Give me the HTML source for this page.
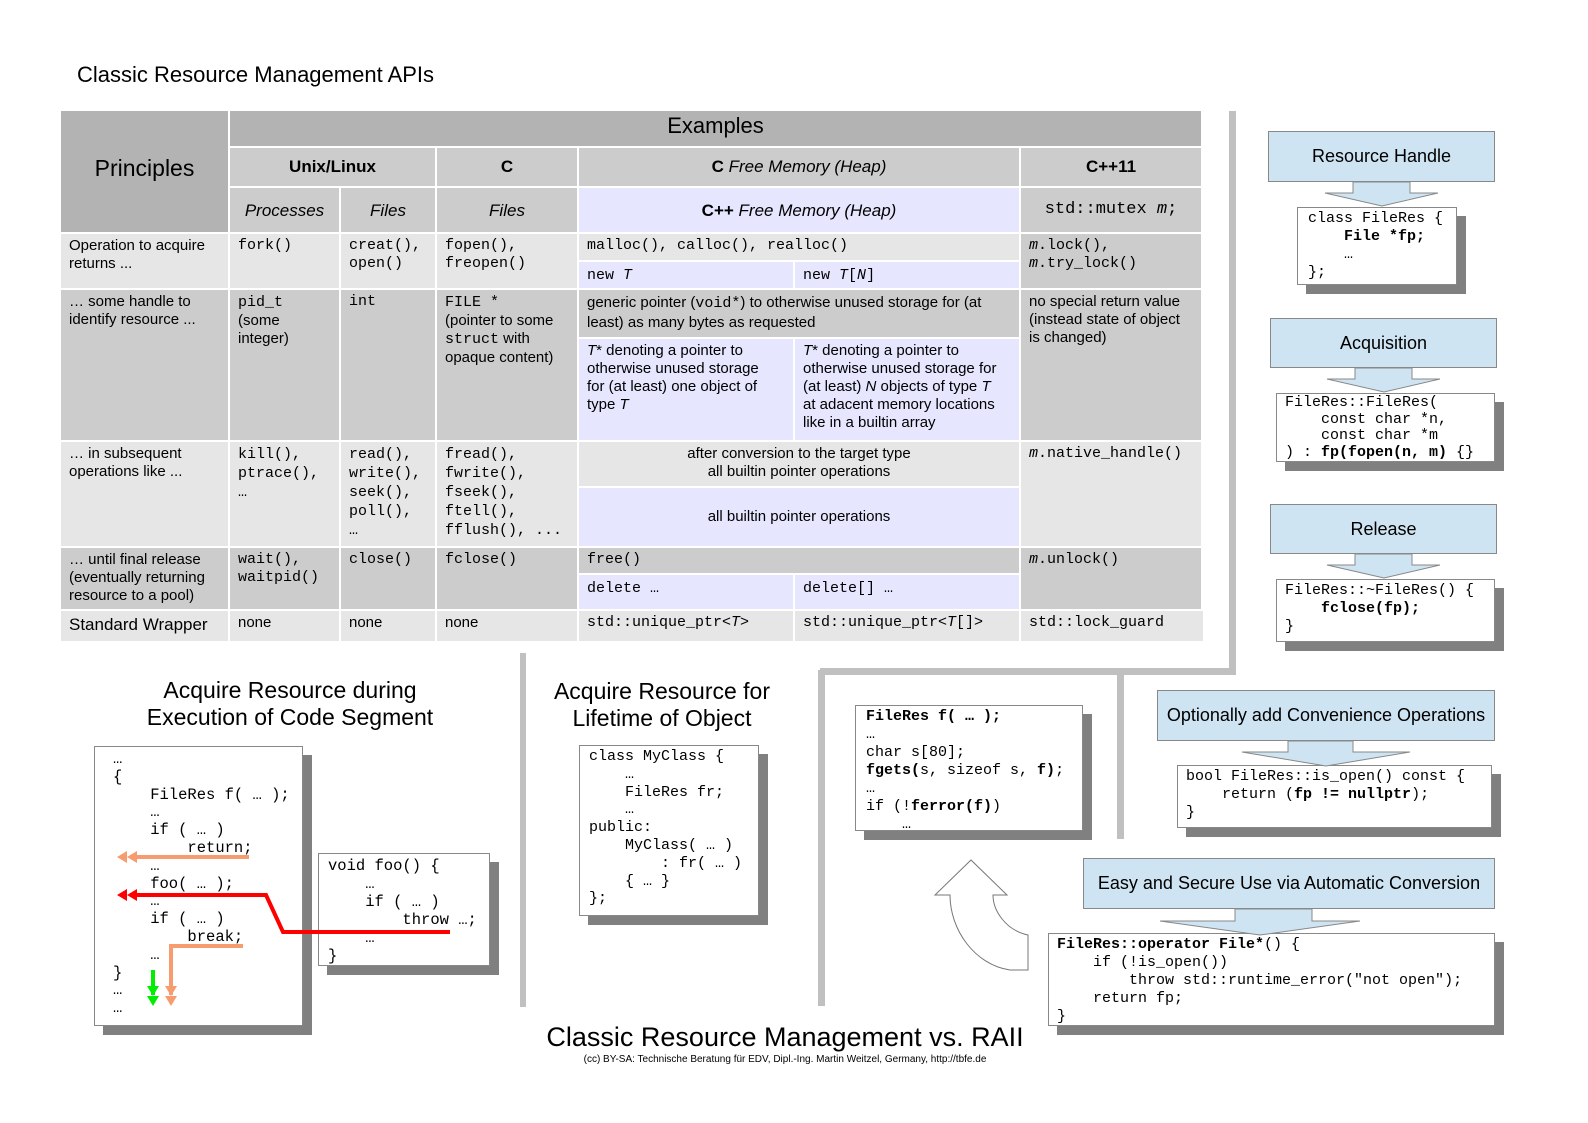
<!DOCTYPE html>
<html><head><meta charset="utf-8"><style>
body{margin:0;width:1588px;height:1123px;background:#fff;position:relative;overflow:hidden;font-family:"Liberation Sans",sans-serif;color:#000}
.c{position:absolute;box-sizing:border-box;border-right:2px solid #fff;border-bottom:2px solid #fff;padding:3px 8px;font-size:15px;line-height:18px}
.m{font-family:"Liberation Mono",monospace}
.g{background:#ccc}.l{background:#e6e6e6}.v{background:#e6e6ff}.d{background:#b3b3b3}
.ctr{text-align:center}
.t{position:absolute;white-space:nowrap}
.box{position:absolute;box-sizing:border-box;background:#fff;border:1px solid #888;box-shadow:9px 9px 0 #808080;font-family:"Liberation Mono",monospace;font-size:15px;line-height:18px;padding:4px 10px;white-space:pre}
.blue{position:absolute;box-sizing:border-box;background:#cfe4f2;border:1px solid #888;font-size:18px;display:flex;align-items:center;justify-content:center;white-space:nowrap}
.bar{position:absolute;background:#c0c0c0}
b{font-weight:bold}
</style></head><body>
<div class="t" style="left:77px;top:62px;font-size:22px">Classic Resource Management APIs</div>

<div class="c d" style="left:61px;top:111px;width:169px;height:123px;font-size:23px;padding-top:48px;text-align:center">Principles</div>
<div class="c d ctr" style="left:230px;top:111px;width:973px;height:37px;font-size:22px;padding-top:6px">Examples</div>
<div class="c g ctr" style="left:230px;top:148px;width:207px;height:40px;font-size:17px;padding-top:10px"><b>Unix/Linux</b></div>
<div class="c g ctr" style="left:437px;top:148px;width:142px;height:40px;font-size:17px;padding-top:10px"><b>C</b></div>
<div class="c g ctr" style="left:579px;top:148px;width:442px;height:40px;font-size:17px;padding-top:10px"><b>C</b> <i>Free Memory (Heap)</i></div>
<div class="c g ctr" style="left:1021px;top:148px;width:182px;height:40px;font-size:17px;padding-top:10px"><b>C++11</b></div>
<div class="c g ctr" style="left:230px;top:188px;width:111px;height:46px;font-size:17px;padding-top:14px"><i>Processes</i></div>
<div class="c g ctr" style="left:341px;top:188px;width:96px;height:46px;font-size:17px;padding-top:14px"><i>Files</i></div>
<div class="c g ctr" style="left:437px;top:188px;width:142px;height:46px;font-size:17px;padding-top:14px"><i>Files</i></div>
<div class="c v ctr" style="left:579px;top:188px;width:442px;height:46px;font-size:17px;padding-top:14px"><b>C++</b> <i>Free Memory (Heap)</i></div>
<div class="c g ctr m" style="left:1021px;top:188px;width:182px;height:46px;font-size:17px;padding-top:13px">std::mutex <i>m</i>;</div>

<div class="c l" style="left:61px;top:234px;width:169px;height:56px">Operation to acquire returns ...</div>
<div class="c l m" style="left:230px;top:234px;width:111px;height:56px">fork()</div>
<div class="c l m" style="left:341px;top:234px;width:96px;height:56px">creat(),<br>open()</div>
<div class="c l m" style="left:437px;top:234px;width:142px;height:56px">fopen(),<br>freopen()</div>
<div class="c l m" style="left:579px;top:234px;width:442px;height:28px">malloc(), calloc(), realloc()</div>
<div class="c v m" style="left:579px;top:262px;width:216px;height:28px;padding-top:5px">new <i>T</i></div>
<div class="c v m" style="left:795px;top:262px;width:226px;height:28px;padding-top:5px">new <i>T</i>[<i>N</i>]</div>
<div class="c g m" style="left:1021px;top:234px;width:182px;height:56px"><i>m</i>.lock(),<br><i>m</i>.try_lock()</div>

<div class="c g" style="left:61px;top:290px;width:169px;height:152px">… some handle to identify resource ...</div>
<div class="c g" style="left:230px;top:290px;width:111px;height:152px"><span class="m">pid_t</span><br>(some<br>integer)</div>
<div class="c g m" style="left:341px;top:290px;width:96px;height:152px">int</div>
<div class="c g" style="left:437px;top:290px;width:142px;height:152px"><span class="m">FILE *</span><br>(pointer to some <span class="m">struct</span> with opaque content)</div>
<div class="c g" style="left:579px;top:290px;width:442px;height:49px;line-height:19px">generic pointer (<span class="m">void*</span>) to otherwise unused storage for (at least) as many bytes as requested</div>
<div class="c v" style="left:579px;top:339px;width:216px;height:103px;padding-right:20px"><i>T</i>* denoting a pointer to otherwise unused storage for (at least) one object of type <i>T</i></div>
<div class="c v" style="left:795px;top:339px;width:226px;height:103px;padding-right:12px"><i>T</i>* denoting a pointer to otherwise unused storage for (at least) <i>N</i> objects of type <i>T</i> at adacent memory locations like in a builtin array</div>
<div class="c g" style="left:1021px;top:290px;width:182px;height:152px">no special return value (instead state of object is changed)</div>

<div class="c l" style="left:61px;top:442px;width:169px;height:106px">… in subsequent operations like ...</div>
<div class="c l m" style="left:230px;top:442px;width:111px;height:106px;line-height:19px">kill(),<br>ptrace(),<br>…</div>
<div class="c l m" style="left:341px;top:442px;width:96px;height:106px;line-height:19px">read(),<br>write(),<br>seek(),<br>poll(),<br>…</div>
<div class="c l m" style="left:437px;top:442px;width:142px;height:106px;line-height:19px">fread(),<br>fwrite(),<br>fseek(),<br>ftell(),<br>fflush(), ...</div>
<div class="c l ctr" style="left:579px;top:442px;width:442px;height:46px">after conversion to the target type<br>all builtin pointer operations</div>
<div class="c v ctr" style="left:579px;top:488px;width:442px;height:60px;padding-top:20px">all builtin pointer operations</div>
<div class="c l m" style="left:1021px;top:442px;width:182px;height:106px"><i>m</i>.native_handle()</div>

<div class="c g" style="left:61px;top:548px;width:169px;height:63px">… until final release (eventually returning resource to a pool)</div>
<div class="c g m" style="left:230px;top:548px;width:111px;height:63px">wait(),<br>waitpid()</div>
<div class="c g m" style="left:341px;top:548px;width:96px;height:63px">close()</div>
<div class="c g m" style="left:437px;top:548px;width:142px;height:63px">fclose()</div>
<div class="c g m" style="left:579px;top:548px;width:442px;height:27px">free()</div>
<div class="c v m" style="left:579px;top:575px;width:216px;height:36px;padding-top:5px">delete …</div>
<div class="c v m" style="left:795px;top:575px;width:226px;height:36px;padding-top:5px">delete[] …</div>
<div class="c g m" style="left:1021px;top:548px;width:182px;height:63px"><i>m</i>.unlock()</div>

<div class="c l" style="left:61px;top:611px;width:169px;height:30px;font-size:17px;padding-top:5px;border-bottom:0">Standard Wrapper</div>
<div class="c l" style="left:230px;top:611px;width:111px;height:30px;border-bottom:0">none</div>
<div class="c l" style="left:341px;top:611px;width:96px;height:30px;border-bottom:0">none</div>
<div class="c l" style="left:437px;top:611px;width:142px;height:30px;border-bottom:0">none</div>
<div class="c l m" style="left:579px;top:611px;width:216px;height:30px;border-bottom:0">std::unique_ptr&lt;<i>T</i>&gt;</div>
<div class="c l m" style="left:795px;top:611px;width:226px;height:30px;border-bottom:0">std::unique_ptr&lt;<i>T</i>[]&gt;</div>
<div class="c l m" style="left:1021px;top:611px;width:182px;height:30px;border-bottom:0;border-right:0">std::lock_guard</div>

<!-- bars -->
<div class="bar" style="left:1229px;top:111px;width:7px;height:563px"></div>
<div class="bar" style="left:820px;top:668px;width:416px;height:7px"></div>
<div class="bar" style="left:818px;top:670px;width:7px;height:336px"></div>
<div class="bar" style="left:1117px;top:674px;width:7px;height:165px"></div>
<div class="bar" style="left:520px;top:653px;width:6px;height:354px"></div>

<div class="blue" style="left:1268px;top:131px;width:227px;height:51px">Resource Handle</div>
<div class="box" style="left:1297px;top:207px;width:160px;height:78px;padding-top:2px">class FileRes {
    <b>File *fp;</b>
    …
};</div>
<div class="blue" style="left:1270px;top:318px;width:227px;height:50px">Acquisition</div>
<div class="box" style="left:1276px;top:393px;width:219px;height:69px;padding:1px 8px;line-height:16.5px">FileRes::FileRes(
    const char *n,
    const char *m
) : <b>fp(fopen(n, m)</b> {}</div>
<div class="blue" style="left:1270px;top:504px;width:227px;height:50px">Release</div>
<div class="box" style="left:1276px;top:579px;width:219px;height:63px;padding:2px 8px">FileRes::~FileRes() {
    <b>fclose(fp);</b>
}</div>
<div class="blue" style="left:1157px;top:690px;width:338px;height:51px">Optionally add Convenience Operations</div>
<div class="box" style="left:1177px;top:765px;width:315px;height:63px;padding:2px 8px">bool FileRes::is_open() const {
    return (<b>fp != nullptr</b>);
}</div>
<div class="blue" style="left:1083px;top:858px;width:412px;height:51px">Easy and Secure Use via Automatic Conversion</div>
<div class="box" style="left:1048px;top:933px;width:447px;height:93px;padding:2px 8px"><b>FileRes::operator File*</b>() {
    if (!is_open())
        throw std::runtime_error("not open");
    return fp;
}</div>
<div class="box" style="left:855px;top:705px;width:228px;height:126px;padding:2px 10px;line-height:18px"><b>FileRes f( … );</b>
…
char s[80];
<b>fgets(</b>s, sizeof s, <b>f)</b>;
…
if (!<b>ferror(f)</b>)
    …</div>

<!-- left -->
<div class="t" style="left:90px;top:677px;width:400px;text-align:center;font-size:23px;line-height:27px;white-space:normal">Acquire Resource during<br>Execution of Code Segment</div>
<div class="t" style="left:520px;top:678px;width:284px;text-align:center;font-size:23px;line-height:27px;white-space:normal">Acquire Resource for<br>Lifetime of Object</div>
<div class="box" style="left:94px;top:746px;width:209px;height:280px;padding:4px 18px;line-height:17.8px;font-size:15.5px">…
{
    FileRes f( … );
    …
    if ( … )
        return;
    …
    foo( … );
    …
    if ( … )
        break;
    …
}
…
…</div>
<div class="box" style="left:318px;top:853px;width:172px;height:113px;padding:3px 9px;line-height:18px;font-size:15.5px">void foo() {
    …
    if ( … )
        throw …;
    …
}</div>
<div class="box" style="left:579px;top:745px;width:180px;height:171px;padding:2px 9px;line-height:17.8px">class MyClass {
    …
    FileRes fr;
    …
public:
    MyClass( … )
        : fr( … )
    { … }
};</div>

<svg style="position:absolute;left:0;top:0;z-index:5" width="1588" height="1123">
<g fill="#cfe4f2" stroke="#888" stroke-width="1">
<polygon points="1353,182 1410,182 1410,193 1438,193 1382,206 1325,193 1353,193"/>
<polygon points="1355,368 1412,368 1412,379 1440,379 1384,392 1327,379 1355,379"/>
<polygon points="1355,554 1412,554 1412,565 1440,565 1384,578 1327,565 1355,565"/>
<polygon points="1288,741 1353,741 1353,752 1410,752 1326,766 1242,752 1288,752"/>
<polygon points="1235,909 1312,909 1312,921 1360,921 1260,935 1160,921 1235,921"/>
</g>
<path d="M1028,970 L1010,970 C975,965 950,930 950,895 L935,895 L971,860 L1007,895 L993,895 C993,910 1005,930 1028,935 Z" fill="#fff" stroke="#777" stroke-width="1"/>
<g stroke-width="4" fill="none">
<path d="M249,857 L130,857" stroke="#f79c6e"/>
<path d="M450,932 L283,932 L266,895 L130,895" stroke="#ff0000"/>
<path d="M243,946 L171,946 L171,995" stroke="#f79c6e"/>
<path d="M153,970 L153,995" stroke="#00ee00"/>
</g>
<g>
<polygon points="117,857 127,851 127,863" fill="#f79c6e"/><polygon points="127,857 137,851 137,863" fill="#f79c6e"/>
<polygon points="117,895 127,889 127,901" fill="#ff0000"/><polygon points="127,895 137,889 137,901" fill="#ff0000"/>
<polygon points="171,1006 165,996 177,996" fill="#f79c6e"/><polygon points="171,996 165,986 177,986" fill="#f79c6e"/>
<polygon points="153,1006 147,996 159,996" fill="#00ee00"/><polygon points="153,996 147,986 159,986" fill="#00ee00"/>
</g>
</svg>

<div class="t" style="left:520px;top:1022px;width:530px;text-align:center;font-size:27px">Classic Resource Management vs. RAII</div>
<div class="t" style="left:520px;top:1054px;width:530px;text-align:center;font-size:10px">(cc) BY-SA: Technische Beratung für EDV, Dipl.-Ing. Martin Weitzel, Germany, http://tbfe.de</div>
</body></html>
